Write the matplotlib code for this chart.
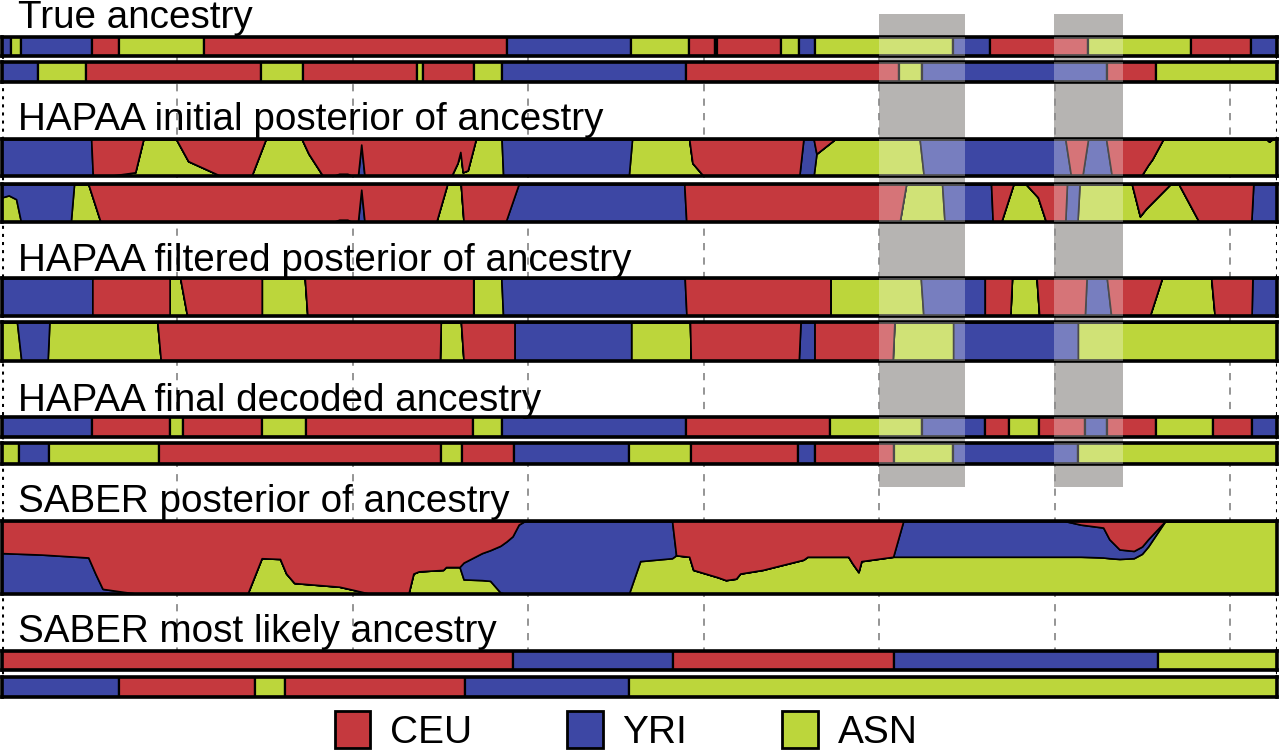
import numpy as np
import matplotlib
matplotlib.use('Agg')
import matplotlib.pyplot as plt
from matplotlib.patches import Patch

plt.rcParams['font.family'] = ['Liberation Sans', 'DejaVu Sans']

# chromosome coordinates in Mb
chrom_len = 145.3
grid_mb = [20, 40, 60, 80, 100, 120, 140]
highlight_mb = [(99.9, 109.7), (119.9, 127.7)]

pops = ['CEU', 'YRI', 'ASN']
colors = {'C': '#C5393E', 'Y': '#3D47A4', 'A': '#BCD63B'}

# --- true ancestry (segment starts + population code) ---
true_h1_start = [0, 1.0, 2.2, 10.2, 13.3, 23.0, 57.6, 71.7, 78.3, 81.2, 81.5,
                 88.8, 90.8, 92.7, 108.4, 112.6, 123.8, 135.5, 142.3]
true_h1_anc = ['Y', 'A', 'Y', 'C', 'A', 'C', 'Y', 'A', 'C', 'Y', 'C',
               'A', 'Y', 'A', 'Y', 'C', 'A', 'C', 'Y']
true_h2_start = [0, 4.1, 9.6, 29.5, 34.3, 47.3, 48.0, 53.8, 57.0, 77.9,
                 102.2, 104.9, 125.9, 131.5]
true_h2_anc = ['Y', 'A', 'C', 'A', 'C', 'A', 'C', 'A', 'Y', 'C',
               'A', 'Y', 'C', 'A']

# --- HAPAA initial posterior: position, P(ASN), P(YRI); P(CEU) is the rest ---
init_h1_x = [0, 10.16, 10.35, 12.16, 15.18, 16.11, 19.83, 21.22, 24.94, 28.43,
             30.06, 34.15, 34.94, 36.57, 37.73, 38.43, 39.36, 39.91, 40.56, 40.94,
             41.31, 51.21, 51.91, 52.23, 52.51, 53.07, 54.0, 56.93, 57.11, 71.43,
             71.8, 78.31, 78.68, 79.94, 90.86, 91.33, 92.49, 92.81, 94.95, 104.57,
             105.04, 121.17, 121.82, 123.12, 123.77, 125.82, 126.47, 129.82, 130.61, 131.07,
             132.33, 144.09, 144.41, 144.79, 145.3]
init_h1_g = [0, 0, 0, 0, 0.1, 1, 1, 0.4, 0, 0,
             1, 1, 0.6, 0, 0, 0, 0, 0, 0, 0,
             0, 0, 0.35, 0.65, 0.1, 0.15, 1, 1, 0, 0,
             1, 1, 0.35, 0, 0, 0, 0, 0.6, 1, 1,
             0, 0, 0, 0, 0, 0, 0, 0, 0.3, 0.45,
             1, 1, 0.93, 1, 1]
init_h1_b = [1, 1, 0, 0, 0, 0, 0, 0, 0, 0,
             0, 0, 0, 0, 0, 0.06, 0.06, 0, 0, 0.85,
             0, 0, 0, 0, 0, 0, 0, 0, 1, 1,
             0, 0, 0, 0, 0, 1, 1, 0, 0, 0,
             1, 1, 0, 0, 1, 1, 0, 0, 0, 0,
             0, 0, 0, 0, 0]

init_h2_x = [0, 0.77, 1.61, 2.16, 7.84, 8.21, 9.83, 11.23, 37.73, 38.43,
             39.36, 39.91, 40.56, 40.94, 41.31, 49.49, 50.74, 52.28, 52.60, 57.39,
             58.88, 77.75, 77.98, 102.30, 103.04, 107.13, 107.41, 112.71, 112.90, 113.87,
             115.27, 116.66, 118.05, 118.98, 121.17, 121.36, 122.56, 122.80, 128.75, 129.68,
             130.37, 133.16, 134.09, 136.42, 142.37, 142.60, 145.3]
init_h2_g = [0.65, 0.7, 0.6, 0, 0, 1, 1, 0, 0, 0,
             0, 0, 0, 0, 0, 0, 1, 1, 0, 0,
             0, 0, 0, 0, 1, 1, 0, 0, 0, 0,
             1, 1, 0.65, 0, 0, 0, 0, 1, 1, 0.15,
             0.35, 1, 1, 0, 0, 0, 0]
init_h2_b = [0.35, 0.3, 0.4, 1, 1, 0, 0, 0, 0, 0.06,
             0.06, 0, 0, 0.85, 0, 0, 0, 0, 0, 0,
             1, 1, 0, 0, 0, 0, 1, 1, 0, 0,
             0, 0, 0, 0, 0, 1, 1, 0, 0, 0,
             0, 0, 0, 0, 0, 1, 1]

# --- HAPAA filtered posterior: segments with (left, right) switch zones ---
filt_h1_anc = ['Y', 'C', 'A', 'C', 'A', 'C', 'A', 'Y', 'C', 'A',
               'Y', 'C', 'A', 'C', 'Y', 'C', 'A', 'C', 'Y']
filt_h1_switch = [(10.3, 10.3), (19.1, 19.1), (20.3, 21.1), (29.6, 29.6), (34.5, 34.8),
                  (53.7, 53.7), (56.9, 57.1), (77.8, 78.0), (94.4, 94.4), (104.7, 105.0),
                  (112.0, 112.0), (114.9, 115.1), (117.9, 118.2), (123.4, 123.6),
                  (125.9, 126.4), (130.8, 132.2), (137.8, 138.2), (142.4, 142.5)]
filt_h2_anc = ['A', 'Y', 'A', 'C', 'A', 'C', 'Y', 'A', 'C', 'Y', 'C', 'A', 'Y', 'A']
filt_h2_switch = [(1.7, 2.2), (5.2, 5.4), (17.7, 18.1), (49.9, 50.0), (52.3, 52.6),
                  (58.4, 58.4), (71.7, 71.7), (78.4, 78.5), (90.8, 91.0), (92.6, 92.6),
                  (101.5, 101.7), (108.4, 108.4), (122.6, 122.6)]

# --- HAPAA final decoded ancestry ---
final_h1_start = [0, 10.3, 19.1, 20.6, 29.6, 34.6, 53.7, 57.0, 77.9, 94.4,
                  104.8, 112.0, 114.8, 118.2, 123.4, 125.9, 131.5, 138.0, 142.4]
final_h1_anc = ['Y', 'C', 'A', 'C', 'A', 'C', 'A', 'Y', 'C', 'A',
                'Y', 'C', 'A', 'C', 'Y', 'C', 'A', 'C', 'Y']
final_h2_start = [0, 1.9, 5.3, 17.9, 50.0, 52.4, 58.3, 71.4, 78.5, 90.7,
                  92.7, 101.6, 108.4, 122.6]
final_h2_anc = ['A', 'Y', 'A', 'C', 'A', 'C', 'Y', 'A', 'C', 'Y',
                'C', 'A', 'Y', 'A']

# --- SABER posterior (single track) ---
saber_x = [0, 4.49, 9.83, 10.63, 11.46, 13.79, 15.65, 27.97, 29.59, 31.68,
           32.38, 33.31, 38.43, 40.28, 41.68, 46.33, 46.88, 47.49, 50.28, 50.60,
           52.14, 52.60, 54.70, 55.63, 56.79, 57.49, 58.18, 58.88, 59.58, 71.43,
           72.73, 76.36, 76.82, 78.31, 78.77, 81.56, 82.49, 83.65, 84.12, 86.68,
           91.33, 91.79, 96.44, 96.90, 97.60, 97.93, 101.55, 102.71, 121.08, 122.94,
           125.49, 126.19, 127.35, 128.98, 129.91, 130.61, 132.56, 145.3]
saber_g = [0, 0, 0, 0, 0, 0, 0, 0, 0.49, 0.48,
           0.28, 0.15, 0.10, 0.05, 0.01, 0.01, 0.28, 0.31, 0.33, 0.37,
           0.37, 0.20, 0.19, 0.18, 0.02, 0, 0, 0, 0, 0,
           0.45, 0.49, 0.53, 0.51, 0.33, 0.23, 0.19, 0.21, 0.28, 0.33,
           0.47, 0.51, 0.51, 0.42, 0.30, 0.45, 0.51, 0.51, 0.51, 0.51,
           0.50, 0.49, 0.48, 0.49, 0.55, 0.65, 1.0, 1.0]
saber_b = [0.56, 0.54, 0.50, 0.28, 0.07, 0.03, 0, 0, 0, 0,
           0, 0, 0, 0, 0, 0, 0, 0, 0, 0,
           0, 0.23, 0.37, 0.42, 0.64, 0.72, 0.79, 0.95, 1.0, 1.0,
           0.55, 0.51, 0, 0, 0, 0, 0, 0, 0, 0,
           0, 0, 0, 0, 0, 0, 0, 0.49, 0.49, 0.44,
           0.41, 0.26, 0.13, 0.10, 0.10, 0.10, 0, 0]

# --- SABER most likely ancestry ---
saber_h1_start = [0, 58.2, 76.5, 101.7, 131.7]
saber_h1_anc = ['C', 'Y', 'C', 'Y', 'A']
saber_h2_start = [0, 13.3, 28.8, 32.2, 52.8, 71.5]
saber_h2_anc = ['Y', 'C', 'A', 'C', 'Y', 'A']

titles = ['True ancestry', 'HAPAA initial posterior of ancestry',
          'HAPAA filtered posterior of ancestry', 'HAPAA final decoded ancestry',
          'SABER posterior of ancestry', 'SABER most likely ancestry']

W, H = 1280, 754
fig = plt.figure(figsize=(W / 100, H / 100), dpi=100)
x0, x1 = 2, 1277


def add_track(top, bot):
    ax = fig.add_axes([x0 / W, 1 - bot / H, (x1 - x0) / W, (bot - top) / H], zorder=2)
    ax.set_xlim(0, chrom_len)
    ax.set_ylim(0, 1)
    ax.set_xticks([])
    ax.set_yticks([])
    ax.patch.set_alpha(0)
    for s in ax.spines.values():
        s.set_linewidth(2.6)
    return ax


def draw_segments(ax, starts, anc):
    ends = starts[1:] + [chrom_len]
    widths = np.array(ends) - np.array(starts)
    ax.barh(0.5, widths, left=starts, height=1, color=[colors[a] for a in anc],
            edgecolor='black', linewidth=1.6)


def draw_posterior(ax, x, g, b):
    g = np.array(g, float)
    b = np.array(b, float)
    r = np.clip(1 - g - b, 0, 1)
    ax.stackplot(x, g, b, r, colors=[colors['A'], colors['Y'], colors['C']],
                 edgecolor='black', linewidth=1.2)


def pure(a):
    return {'A': (1, 0), 'Y': (0, 1), 'C': (0, 0)}[a]


def switch_profile(anc, switch):
    xs, gs, bs = [0], [pure(anc[0])[0]], [pure(anc[0])[1]]
    for i, (lo, hi) in enumerate(switch):
        for xx, a in ((lo, anc[i]), (hi, anc[i + 1])):
            xs.append(xx)
            gs.append(pure(a)[0])
            bs.append(pure(a)[1])
    xs.append(chrom_len)
    gs.append(pure(anc[-1])[0])
    bs.append(pure(anc[-1])[1])
    return xs, gs, bs


# background: grid, highlight boxes, dotted borders
bg = fig.add_axes([x0 / W, 0, (x1 - x0) / W, 1], zorder=0)
bg.set_xlim(0, chrom_len)
bg.set_ylim(0, 1)
bg.axis('off')
for lo, hi in highlight_mb:
    bg.axvspan(lo, hi, ymin=1 - 487 / H, ymax=1 - 14 / H, color='#B6B4B2', lw=0)
bg.vlines(grid_mb, 1 - 698 / H, 1 - 37 / H, colors='#8C8C8C', linestyles=(0, (4, 4)), lw=1.3)
bg.vlines([0, chrom_len], 1 - 698 / H, 1 - 36 / H, colors='black', linestyles=':', lw=2.2)

# tracks
rows = [(37, 56), (62, 82), (139, 176), (184, 222), (278, 316), (322, 361),
        (417, 437), (443, 464), (521, 594), (651, 670), (677, 697)]
axs = [add_track(t, b) for t, b in rows]

draw_segments(axs[0], true_h1_start, true_h1_anc)
draw_segments(axs[1], true_h2_start, true_h2_anc)
draw_posterior(axs[2], init_h1_x, init_h1_g, init_h1_b)
draw_posterior(axs[3], init_h2_x, init_h2_g, init_h2_b)
draw_posterior(axs[4], *switch_profile(filt_h1_anc, filt_h1_switch))
draw_posterior(axs[5], *switch_profile(filt_h2_anc, filt_h2_switch))
draw_segments(axs[6], final_h1_start, final_h1_anc)
draw_segments(axs[7], final_h2_start, final_h2_anc)
draw_posterior(axs[8], saber_x, saber_g, saber_b)
draw_segments(axs[9], saber_h1_start, saber_h1_anc)
draw_segments(axs[10], saber_h2_start, saber_h2_anc)

# lighten the bars inside the highlighted windows
for ax in axs[:8]:
    for lo, hi in highlight_mb:
        ax.axvspan(lo, hi, color='white', alpha=0.3, lw=0, zorder=5)

# panel titles
baselines = [28, 130, 271, 411, 512, 642]
for t, y in zip(titles, baselines):
    fig.text(18 / W, 1 - y / H, t, fontsize=27.8, ha='left', va='baseline', zorder=3)

handles = [Patch(facecolor=colors[p[0]], edgecolor='black', linewidth=2) for p in pops]
fig.legend(handles, pops, loc='center', bbox_to_anchor=(626 / W, 1 - 731 / H), ncol=3,
           frameon=False, fontsize=28, handlelength=0.92, handleheight=1.1,
           handletextpad=0.5, columnspacing=2.45, borderpad=0, borderaxespad=0)

fig.savefig('out.png', dpi=100)
